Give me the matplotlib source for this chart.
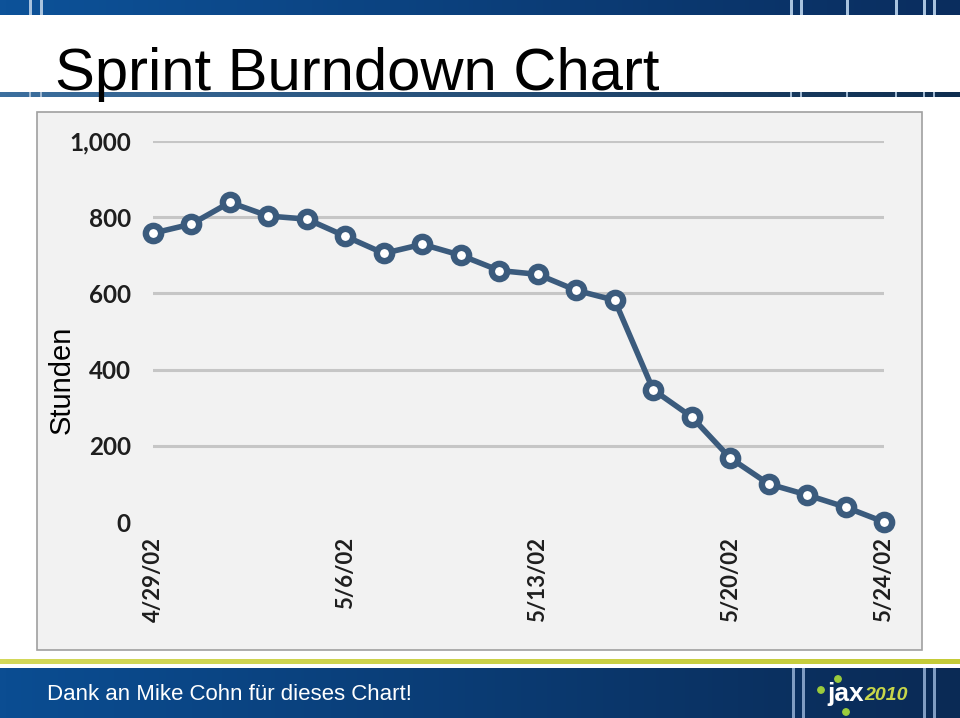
import matplotlib
matplotlib.use("Agg")
import matplotlib.pyplot as plt
import numpy as np
from matplotlib.colors import LinearSegmentedColormap
from matplotlib.patches import Rectangle, Circle

# Daten: verbleibende Stunden pro Arbeitstag
days = list(range(1, 21))
hours = [758, 782, 839, 803, 795, 750, 705, 729, 700, 660,
         650, 608, 582, 347, 276, 168, 100, 71, 39, 0]
tick_days = [1, 6, 11, 16, 20]
tick_labels = ["4/29/02", "5/6/02", "5/13/02", "5/20/02", "5/24/02"]
y_ticks = [0, 200, 400, 600, 800, 1000]
y_labels = ["0", "200", "400", "600", "800", "1,000"]

W, H = 960, 718
TICKFONT = ["Lato", "DejaVu Sans"]
SANS = ["Liberation Sans", "DejaVu Sans"]

fig = plt.figure(figsize=(W / 100, H / 100), dpi=100)
fig.patch.set_facecolor("white")

# Hintergrund-Ebene in Pixelkoordinaten (Folien-Deko)
bg = fig.add_axes([0, 0, 1, 1])
bg.axis("off")


def band(y0, y1, c0, c1):
    cmap = LinearSegmentedColormap.from_list("band", [c0, c1])
    bg.imshow(np.linspace(0, 1, 256)[None, :], cmap=cmap, aspect="auto",
              extent=(0, W, y1, y0), zorder=1, interpolation="bilinear")


def stripes(xs, y0, y1, color, w=2.5):
    for x in xs:
        bg.add_patch(Rectangle((x, y0), w, y1 - y0, color=color, zorder=2, lw=0))


# Kopfband
band(0, 15, "#0d5299", "#0a2d5e")
stripes([29, 40, 790, 800, 846, 895, 923, 933], 0, 15, "#a9c3de")
# Linie unter dem Titel
band(92, 97, "#3c6f9e", "#0f2e50")
stripes([29, 40, 790, 800, 846, 895, 923, 933], 92, 97, "#9fb8d2", w=2)

# Fußband
band(659, 664, "#d3d85a", "#c4cb38")
band(668, H, "#0b4d92", "#0a2a55")
stripes([792, 802, 923, 933], 668, H, "#7f9cc2", w=3)

# Diagrammfläche
bg.add_patch(Rectangle((37, 112), 885, 538, facecolor="#f2f2f2",
                       edgecolor="#a0a0a0", lw=1.2, zorder=1))

# jax-Logo
for (cx, cy) in [(821, 690), (838, 679), (846, 712)]:
    bg.add_patch(Circle((cx, cy), 3.2, color="#9ccc3c", zorder=3))
bg.text(827, 701, "jax", color="white", fontsize=19, fontweight="bold",
        family=SANS, va="baseline", ha="left", zorder=4)
bg.text(864, 700, "2010", color="#c7d64a", fontsize=14, fontweight="bold",
        style="italic", family=SANS, va="baseline", ha="left", zorder=4)

bg.set_xlim(0, W)
bg.set_ylim(H, 0)

# Titel und Fußtext
fig.text(55 / W, 1 - 90 / H, "Sprint Burndown Chart", fontsize=43,
         family=SANS, va="baseline", ha="left", color="black")
fig.text(47 / W, 1 - 700 / H, "Dank an Mike Cohn für dieses Chart!",
         fontsize=16, family=SANS, va="baseline", ha="left", color="white")
fig.text(62 / W, 1 - 380 / H, "Stunden", fontsize=21, family=SANS,
         rotation=90, va="center", ha="center", color="black")

# Burndown-Diagramm
ax = fig.add_axes([153 / W, 1 - 522 / H, (884 - 153) / W, (522 - 141) / H])
ax.patch.set_visible(False)
for s in ax.spines.values():
    s.set_visible(False)
ax.set_xlim(1, 20)
ax.set_ylim(0, 1000)

for v in y_ticks[1:]:
    ax.axhline(v, color="#c6c6c6", lw=2.2, zorder=1)

ax.plot(days, hours, color="#3b5b7d", lw=4, marker="o", markersize=11,
        markerfacecolor="white", markeredgecolor="#3b5b7d",
        markeredgewidth=4.6, clip_on=False, zorder=3)

ax.set_yticks(y_ticks)
ax.set_yticklabels(y_labels, fontsize=17.5, fontweight="bold", family=TICKFONT,
                   color="#1e1e1e")
ax.set_xticks(tick_days)
ax.set_xticklabels(tick_labels, fontsize=16, fontweight="bold", family=TICKFONT,
                   color="#1e1e1e", rotation=90, va="top", ha="center")
ax.tick_params(axis="y", length=0, pad=16)
ax.tick_params(axis="x", length=0, pad=11)

fig.savefig("out.png", dpi=100)
plt.close(fig)
